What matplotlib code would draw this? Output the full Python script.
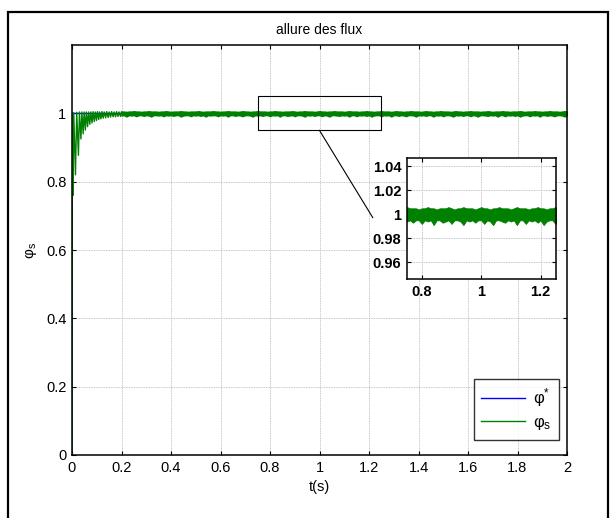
import numpy as np
import matplotlib
matplotlib.use("Agg")
import matplotlib.pyplot as plt
from matplotlib.patches import Rectangle

plt.rcParams['font.family'] = ['Liberation Sans', 'DejaVu Sans']
plt.rcParams['mathtext.fontset'] = 'custom'
plt.rcParams['mathtext.rm'] = 'Liberation Sans'
plt.rcParams['mathtext.it'] = 'Liberation Sans'

# reference flux phi*
t_ref = [0.0, 2.0]
phi_ref = [1.0, 1.0]

# start-up transient of phi_s (0 .. 0.2 s)
t_tr = [0.0, 0.001, 0.002, 0.004, 0.007, 0.014, 0.019, 0.026, 0.030, 0.036,
        0.040, 0.045, 0.049, 0.054, 0.058, 0.063, 0.067, 0.072, 0.076, 0.081,
        0.085, 0.090, 0.094, 0.099, 0.103, 0.108, 0.112, 0.117, 0.121, 0.126,
        0.130, 0.136, 0.140, 0.146, 0.150, 0.156, 0.160, 0.166, 0.170, 0.176,
        0.180, 0.186, 0.190, 0.196, 0.200]
phi_tr = [0.0, 0.75, 1.0, 0.76, 1.002, 0.82, 1.003, 0.877, 1.004, 0.925,
          1.004, 0.94, 1.004, 0.951, 1.004, 0.961, 1.004, 0.968, 1.004, 0.972,
          1.005, 0.976, 1.004, 0.979, 1.005, 0.982, 1.004, 0.984, 1.005, 0.986,
          1.004, 0.987, 1.005, 0.988, 1.004, 0.989, 1.005, 0.990, 1.004, 0.990,
          1.005, 0.991, 1.004, 0.991, 1.004]

# steady-state ripple band of phi_s (0.2 .. 2 s, every 10 ms), lower / upper envelope
ripple_low = [
    0.994, 0.995, 0.991, 0.995, 0.994, 0.995, 0.992, 0.995, 0.995, 0.993,
    0.995, 0.994, 0.991, 0.995, 0.995, 0.994, 0.995, 0.992, 0.995, 0.994,
    0.995, 0.993, 0.995, 0.995, 0.991, 0.994, 0.995, 0.995, 0.992, 0.995,
    0.994, 0.995, 0.993, 0.995, 0.991, 0.995, 0.994, 0.995, 0.995, 0.992,
    0.995, 0.994, 0.995, 0.991, 0.995, 0.995, 0.993, 0.995, 0.994, 0.992,
    0.995, 0.995, 0.994, 0.991, 0.995, 0.994, 0.995, 0.993, 0.995, 0.995,
    0.992, 0.995, 0.994, 0.995, 0.991, 0.995, 0.995, 0.993, 0.994, 0.995,
    0.992, 0.995, 0.995, 0.994, 0.991, 0.995, 0.994, 0.995, 0.993, 0.995,
    0.995, 0.992, 0.995, 0.994, 0.991, 0.995, 0.995, 0.994, 0.993, 0.995,
    0.994, 0.995, 0.991, 0.995, 0.995, 0.992, 0.995, 0.994, 0.995, 0.993,
    0.995, 0.991, 0.994, 0.995, 0.995, 0.992, 0.995, 0.994, 0.995, 0.991,
    0.995, 0.995, 0.993, 0.995, 0.994, 0.992, 0.995, 0.995, 0.994, 0.991,
    0.995, 0.994, 0.995, 0.993, 0.995, 0.995, 0.991, 0.995, 0.994, 0.995,
    0.992, 0.995, 0.995, 0.994, 0.991, 0.995, 0.994, 0.995, 0.993, 0.995,
    0.995, 0.992, 0.995, 0.994, 0.991, 0.995, 0.995, 0.994, 0.993, 0.995,
    0.994, 0.995, 0.991, 0.995, 0.995, 0.992, 0.995, 0.994, 0.995, 0.993,
    0.995, 0.991, 0.994, 0.995, 0.995, 0.992, 0.995, 0.994, 0.995, 0.991,
    0.995, 0.995, 0.993, 0.995, 0.994, 0.992, 0.995, 0.995, 0.994, 0.991,
    0.995]
ripple_high = [
    1.005, 1.005, 1.004, 1.005, 1.005, 1.006, 1.005, 1.005, 1.004, 1.005,
    1.005, 1.006, 1.005, 1.005, 1.005, 1.004, 1.005, 1.005, 1.006, 1.005,
    1.004, 1.005, 1.005, 1.005, 1.006, 1.005, 1.005, 1.004, 1.005, 1.005,
    1.005, 1.006, 1.005, 1.004, 1.005, 1.005, 1.005, 1.006, 1.005, 1.005,
    1.004, 1.005, 1.005, 1.006, 1.005, 1.005, 1.005, 1.004, 1.005, 1.006,
    1.005, 1.005, 1.004, 1.005, 1.005, 1.006, 1.005, 1.005, 1.005, 1.004,
    1.005, 1.005, 1.006, 1.005, 1.005, 1.004, 1.005, 1.005, 1.005, 1.006,
    1.005, 1.004, 1.005, 1.005, 1.006, 1.005, 1.005, 1.005, 1.004, 1.005,
    1.006, 1.005, 1.005, 1.004, 1.005, 1.005, 1.006, 1.005, 1.005, 1.005,
    1.004, 1.005, 1.006, 1.005, 1.005, 1.005, 1.004, 1.005, 1.005, 1.006,
    1.005, 1.005, 1.004, 1.005, 1.005, 1.006, 1.005, 1.005, 1.005, 1.004,
    1.005, 1.006, 1.005, 1.005, 1.004, 1.005, 1.005, 1.006, 1.005, 1.005,
    1.005, 1.004, 1.005, 1.006, 1.005, 1.005, 1.004, 1.005, 1.005, 1.006,
    1.005, 1.005, 1.005, 1.004, 1.005, 1.006, 1.005, 1.005, 1.004, 1.005,
    1.005, 1.006, 1.005, 1.005, 1.005, 1.004, 1.005, 1.005, 1.006, 1.005,
    1.004, 1.005, 1.005, 1.005, 1.006, 1.005, 1.005, 1.004, 1.005, 1.005,
    1.005, 1.006, 1.005, 1.004, 1.005, 1.005, 1.005, 1.006, 1.005, 1.005,
    1.004, 1.005, 1.005, 1.006, 1.005, 1.005, 1.005, 1.004, 1.005, 1.006,
    1.005]
t_rip = np.linspace(0.2, 2.0, len(ripple_low))

xticks = [0, 0.2, 0.4, 0.6, 0.8, 1, 1.2, 1.4, 1.6, 1.8, 2]
xticklabels = ['0', '0.2', '0.4', '0.6', '0.8', '1', '1.2', '1.4', '1.6', '1.8', '2']
yticks = [0, 0.2, 0.4, 0.6, 0.8, 1]
yticklabels = ['0', '0.2', '0.4', '0.6', '0.8', '1']
zoom_xticks = [0.8, 1, 1.2]
zoom_xticklabels = ['0.8', '1', '1.2']
zoom_yticks = [0.96, 0.98, 1, 1.02, 1.04]
zoom_yticklabels = ['0.96', '0.98', '1', '1.02', '1.04']

blue = '#0000ff'
green = '#008000'
gridkw = dict(color='#b4b4b4', linestyle=(0, (1, 1)), linewidth=0.6)

fig = plt.figure(figsize=(6.12, 5.18), dpi=100)
fig.patches.append(Rectangle((8 / 612, -0.05), 600 / 612, (518 - 12) / 518 + 0.05,
                             transform=fig.transFigure, fill=False,
                             edgecolor='black', linewidth=1.6))


def style(ax, fs, weight='normal'):
    for s in ax.spines.values():
        s.set_linewidth(1.1)
    ax.tick_params(direction='in', length=3, width=0.8, top=True, right=True,
                   labelsize=fs, pad=4)
    for lab in ax.get_xticklabels() + ax.get_yticklabels():
        lab.set_fontweight(weight)
    ax.grid(True, **gridkw)
    ax.set_axisbelow(True)


def draw_flux(ax, label=True, edge=0.6):
    ax.plot(t_ref, phi_ref, color=blue, lw=1.0, zorder=1.5,
            label='φ$^{*}$' if label else None)
    ax.plot(t_tr, phi_tr, color=green, lw=1.0, zorder=2,
            label='φ$_{s}$' if label else None)
    ax.fill_between(t_rip, ripple_low, ripple_high, color=green, lw=edge,
                    edgecolor=green, zorder=2)


# main axes
ax = fig.add_axes([72 / 612, 1 - 455 / 518, (567 - 72) / 612, (455 - 45) / 518])
draw_flux(ax, edge=1.1)
ax.set_xlim(0, 2)
ax.set_ylim(0, 1.2)
ax.set_xticks(xticks)
ax.set_xticklabels(xticklabels)
ax.set_yticks(yticks)
ax.set_yticklabels(yticklabels)
style(ax, 10.5)
ax.set_title('allure des flux', fontsize=10, pad=8)
ax.set_xlabel('t(s)', fontsize=10.5, labelpad=4)
ax.set_ylabel('φ$_s$', fontsize=11, labelpad=5)

# zoom rectangle and link line
ax.add_patch(Rectangle((0.75, 0.95), 0.5, 0.1, fill=False, edgecolor='black',
                       linewidth=0.8, zorder=5))
ax.plot([1.0, 1.215], [0.95, 0.695], color='black', lw=0.8, zorder=5)

leg = ax.legend(loc='lower right', bbox_to_anchor=(0.984, 0.037),
                borderaxespad=0, fancybox=False, edgecolor='black',
                fontsize=12, handlelength=2.6, labelspacing=0.35,
                borderpad=0.45, handletextpad=0.5)
leg.get_frame().set_linewidth(1.0)

# inset
ax2 = fig.add_axes([407 / 612, 1 - 279 / 518, (555.5 - 407) / 612, (279 - 158) / 518])
ax2.set_facecolor('white')
draw_flux(ax2, label=False)
ax2.set_xlim(0.75, 1.25)
ax2.set_ylim(0.946, 1.047)
ax2.set_xticks(zoom_xticks)
ax2.set_xticklabels(zoom_xticklabels)
ax2.set_yticks(zoom_yticks)
ax2.set_yticklabels(zoom_yticklabels)
style(ax2, 10.5, weight='bold')

fig.savefig('out.png', dpi=100)
